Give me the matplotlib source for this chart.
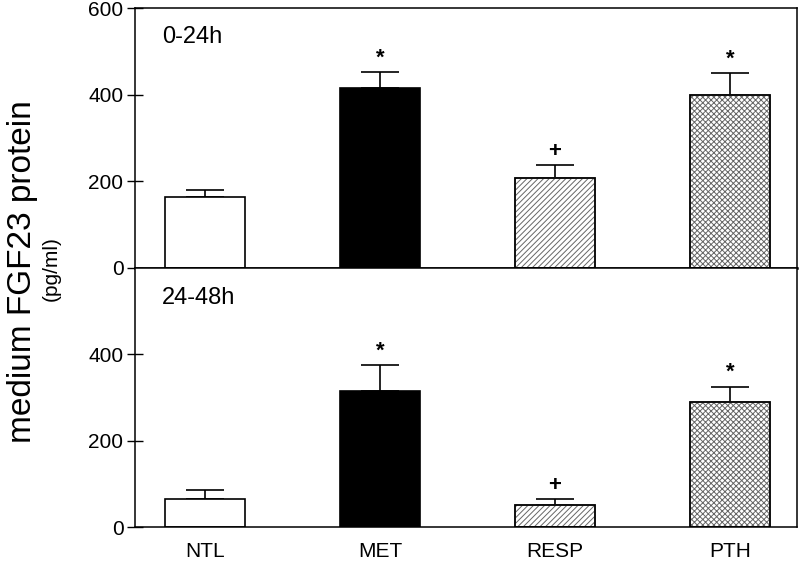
import matplotlib.pyplot as plt
import numpy as np

plt.rcParams['font.family'] = ['Liberation Sans', 'DejaVu Sans']
plt.rcParams['hatch.linewidth'] = 0.7

groups = ["NTL", "MET", "RESP", "PTH"]
top_vals = [163, 415, 207, 400]
top_err = [17, 37, 30, 50]
bot_vals = [65, 315, 52, 290]
bot_err = [20, 60, 12, 35]
top_marks = ["", "*", "+", "*"]
bot_marks = ["", "*", "+", "*"]

faces = ["white", "black", "white", "white"]
hatches = [None, None, "//////", "xxxxxx"]

fig = plt.figure(figsize=(8, 5.64), dpi=100)
ax1 = fig.add_axes([0.169, 0.525, 0.827, 0.4608])
ax2 = fig.add_axes([0.169, 0.0656, 0.827, 0.4594])

x = np.arange(len(groups))


def draw(ax, vals, err, marks, label):
    for i in range(len(groups)):
        b = ax.bar(x[i], vals[i], width=0.457, color=faces[i], edgecolor="black",
                   linewidth=1.2, hatch=hatches[i], zorder=2)
        if hatches[i]:
            b[0].set_edgecolor("#666666")
            ax.bar(x[i], vals[i], width=0.457, color="none", edgecolor="black",
                   linewidth=1.2, zorder=3)
        ax.errorbar(x[i], vals[i], yerr=[[0], [err[i]]], fmt="none", ecolor="black",
                    elinewidth=1.2, capsize=14, capthick=1.2, zorder=1)
        if marks[i]:
            ax.text(x[i], vals[i] + err[i] + 8, marks[i], ha="center", va="bottom",
                    fontsize=16, fontweight="bold")
    ax.set_xlim(-0.4, 3.383)
    ax.set_ylim(0, 600)
    ax.tick_params(axis="y", direction="inout", length=11, width=1.0,
                   labelsize=15, pad=3)
    ax.text(0.04, 0.93 if label == "0-24h" else 0.925, label, transform=ax.transAxes,
            fontsize=17, ha="left", va="top")
    for s in ax.spines.values():
        s.set_linewidth(1.1)


draw(ax1, top_vals, top_err, top_marks, "0-24h")
draw(ax2, bot_vals, bot_err, bot_marks, "24-48h")

ax1.set_yticks([0, 200, 400, 600])
ax1.set_xticks([])
ax1.spines["bottom"].set_linewidth(1.8)
ax2.set_yticks([0, 200, 400])
ax2.set_xticks(x)
ax2.set_xticklabels(groups, fontsize=15)
ax2.tick_params(axis="x", length=0, pad=11)

fig.text(0.028, 0.518, "medium FGF23 protein", rotation=90, fontsize=24,
         ha="center", va="center")
fig.text(0.064, 0.523, "(pg/ml)", rotation=90, fontsize=15,
         ha="center", va="center")

fig.savefig("out.png", dpi=100)
